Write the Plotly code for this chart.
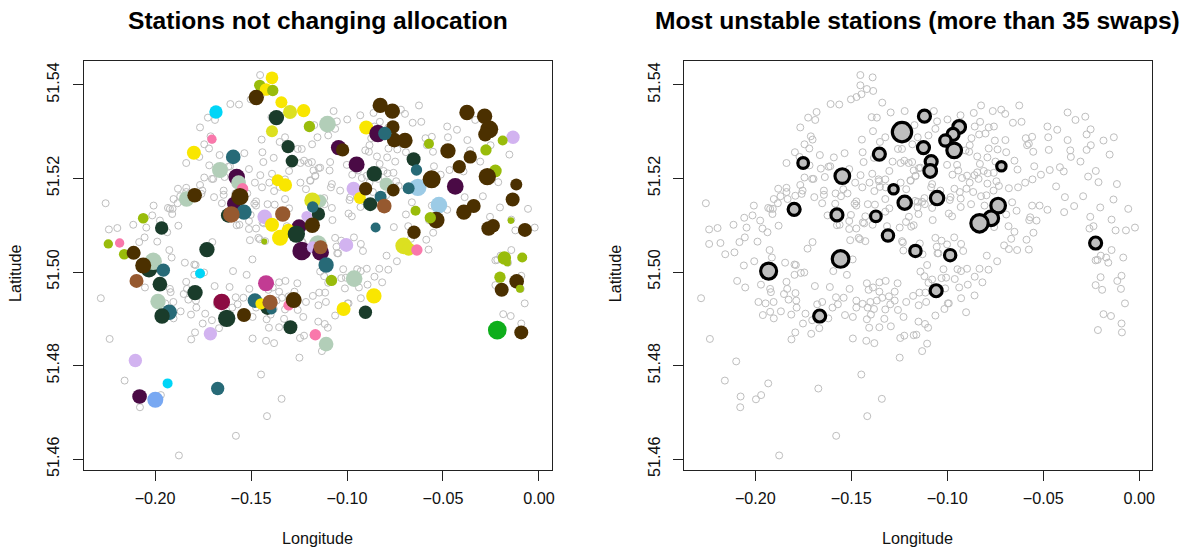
import plotly.graph_objects as go

gray_lon = [-.1453,-.1389,-.1453,-.1419,-.1386,-.1447,-.1473,-.1502,-.1563,-.1608,-.1681,-.1725,-.1688,-.1766,-.1711,-.1702,-.1744,-.1719,-.1794,-.1664,-.1838,-.1591,-.1535,-.1770,-.1718,-.1659,-.1619,-.1610,-.1638,-.1511,-.1744,-.1704,-.1697,-.1766,-.1881,-.1838,-.1838,-.1754,-.1759,-.1792,-.1832,-.1869,-.1904,-.1883,-.1909,-.1933,-.1923,-.1911,-.2008,-.2015,-.2058,-.1975,-.2046,-.2114,-.1879,-.1963,-.1937,-.2055,-.2083,-.1989,-.2182,-.2241,-.2157,-.2109,-.2241,-.2197,-.2258,-.1693,-.1643,-.1643,-.1652,-.1582,-.1542,-.1554,-.1520,-.1584,-.1624,-.1502,-.1561,-.1575,-.1511,-.1511,-.1474,-.1440,-.1427,-.1433,-.1506,-.1462,-.1455,-.1427,-.1702,-.1728,-.1926,-.1914,-.2060,-.2006,-.1845,-.1796,-.1789,-.1493,-.1474,-.1483,-.1474,-.1414,-.1377,-.1389,-.1302,-.1323,-.1314,-.1248,-.1236,-.1231,-.1229,-.1215,-.1200,-.1188,-.1175,-.1302,-.1436,-.1441,-.1445,-.1387,-.1339,-.1295,-.1222,-.1394,-.1367,-.1257,-.1236,-.1323,-.1351,-.1182,-.1382,-.1285,-.1243,-.1224,-.1201,-.1452,-.1391,-.1480,-.1443,-.1405,-.1358,-.1356,-.1323,-.1351,-.1380,-.1321,-.1243,-.1191,-.1165,-.1214,-.1323,-.1155,-.1148,
-.0824,-.0625,-.0719,-.0698,-.0763,-.0862,-.0931,-.1070,-.0999,-.1053,-.0829,-.0857,-.0784,-.0757,-.0658,-.0613,-.1062,-.0801,-.0834,-.0874,-.0752,-.0697,-.1171,-.1098,-.1154,-.0883,-.0886,-.0905,-.0784,-.0738,-.0693,-.0844,-.0791,-.0830,-.0749,-.0650,-.0634,-.0789,-.0810,-.0844,-.0858,-.0758,-.1001,-.0949,-.0943,-.0973,-.0923,-.0883,-.0897,-.0900,-.0963,-.0935,-.0865,-.0791,-.0837,-.0744,-.0731,-.0759,-.0679,-.0631,-.0594,-.0556,-.0512,-.0466,-.0413,-.0393,-.0547,-.0796,-.0824,-.0930,-.0983,-.0987,-.0930,-.0876,-.0806,-.1079,-.1084,-.1036,-.1119,-.1168,-.1154,-.1131,-.1117,-.1079,-.1150,-.0992,-.0975,-.1076,-.0662,-.0693,-.0639,-.0558,-.0519,-.0478,-.0391,-.0433,-.0387,-.0292,-.0339,-.0203,-.0255,-.0238,-.0259,-.0144,-.0123,-.0069,-.0022,-.0057,-.0134,-.0116,-.0212,-.0266,-.0226,-.0306,-.0356,-.0359,-.0274,-.0252,-.0373,-.0274,-.0253,-.0478,-.0427,-.0474,-.0471,-.0591,-.0558,-.0575,-.0584,-.0552,-.0373,-.0332,-.0281,-.0186,-.0132,-.0154,-.0681,-.0650,-.0667,-.0756,-.0704,-.0679,-.0636,-.0575,-.0587,-.0551,-.0568,-.0573,-.0535,-.0794,-.0740,-.0964,-.0928,-.1062,-.1030,-.1055,-.1001,-.0917,-.1051,-.1046,-.1143,-.1129,-.1105,-.1175,-.1140,-.1091,-.1088,-.1183,-.1166,-.1192,-.0227,-.0217,-.0200,-.0172,-.0161,-.0144,-.0083,
-.2095,-.2053,-.1971,-.1923,-.1919,-.1838,-.1834,-.1791,-.1851,-.1827,-.1787,-.1785,-.1905,-.1947,-.1984,-.1923,-.1867,-.1961,-.1904,-.1813,-.1739,-.1704,-.1752,-.1667,-.1792,-.1709,-.1812,-.1620,-.1678,-.1652,-.1690,-.1612,-.1598,-.1570,-.1580,-.1540,-.1509,-.1523,-.1594,-.1796,-.1763,-.1745,-.1533,-.1492,-.1474,-.1474,-.1441,-.1419,-.1410,-.1387,-.1354,-.1321,-.1259,-.1354,-.1274,-.1304,-.1339,-.1367,-.1401,-.1415,-.1382,-.1398,-.1419,-.1407,-.1354,-.1328,-.1294,-.1323,-.1297,-.1274,-.1257,-.1228,-.1214,-.1245,-.1224,-.1492,-.1422,-.1380,-.1248,-.1448,-.1341,-.1417,-.1579,-.1876,-.1672,-.1933,-.1970,-.1997,-.2077,-.2079,-.2159,-.2100,-.2237,-.2283,
-.1020,-.0947,-.0928,-.0897,-.0832,-.0785,-.1140,-.1119,-.1079,-.1030,-.1006,-.0961,-.1098,-.1011,-.0938,-.0893,-.0857,-.0817,-.0858,-.0928,-.1145,-.1114,-.1178,-.1110,-.1149,-.0997,-.0992,-.1015,-.1062,-.0902,-.1150,-.1116,-.1100,-.1161,-.1175,-.1105,-.1131,-.0201,-.0092,-.0114,-.0227,-.0193,-.0095,-.0074,-.0186,-.0147,-.0092,-.0215,-.0090]
gray_lat = [51.5421,51.5416,51.5399,51.5391,51.5387,51.5380,51.5374,51.5369,51.5358,51.5359,51.5342,51.5330,51.5325,51.5309,51.5290,51.5283,51.5273,51.5264,51.5256,51.5250,51.5233,51.5245,51.5254,51.5246,51.5228,51.5221,51.5225,51.5226,51.5203,51.5220,51.5202,51.5199,51.5199,51.5186,51.5178,51.5180,51.5171,51.5174,51.5167,51.5163,51.5156,51.5162,51.5156,51.5147,51.5135,51.5137,51.5135,51.5124,51.5142,51.5121,51.5116,51.5110,51.5095,51.5101,51.5099,51.5093,51.5085,51.5074,51.5064,51.5065,51.5062,51.5060,51.5038,51.5042,51.5091,51.5094,51.5147,51.5160,51.5174,51.5165,51.5147,51.5168,51.5177,51.5162,51.5168,51.5146,51.5121,51.5122,51.5101,51.5100,51.5109,51.5092,51.5093,51.5106,51.5119,51.5104,51.5068,51.5073,51.5070,51.5066,51.5064,51.5050,51.5047,51.5031,51.5014,51.5023,51.5020,51.5016,51.5015,51.5027,51.5151,51.5146,51.5142,51.5145,51.5144,51.5101,51.5136,51.5129,51.5098,51.5095,51.5066,51.5063,51.5046,51.5107,51.5118,51.5097,51.5100,51.5216,51.5235,51.5256,51.5283,51.5301,51.5362,51.5341,51.5344,51.5331,51.5330,51.5263,51.5263,51.5288,51.5278,51.5273,51.5244,51.5236,51.5233,51.5238,51.5233,51.5207,51.5210,51.5191,51.5181,51.5191,51.5198,51.5194,51.5198,51.5182,51.5173,51.5181,51.5191,51.5195,51.5206,51.5177,51.5156,51.5138,51.5222,
51.5356,51.5356,51.5347,51.5338,51.5344,51.5340,51.5335,51.5344,51.5326,51.5322,51.5321,51.5311,51.5309,51.5311,51.5319,51.5321,51.5306,51.5296,51.5294,51.5286,51.5281,51.5282,51.5314,51.5292,51.5288,51.5271,51.5257,51.5260,51.5264,51.5262,51.5256,51.5247,51.5245,51.5231,51.5236,51.5238,51.5219,51.5211,51.5216,51.5213,51.5207,51.5212,51.5229,51.5229,51.5217,51.5208,51.5201,51.5191,51.5206,51.5178,51.5178,51.5171,51.5171,51.5189,51.5199,51.5194,51.5184,51.5174,51.5179,51.5181,51.5191,51.5198,51.5208,51.5218,51.5224,51.5215,51.5226,51.5164,51.5162,51.5157,51.5160,51.5154,51.5139,51.5145,51.5142,51.5188,51.5181,51.5174,51.5158,51.5152,51.5150,51.5150,51.5145,51.5137,51.5124,51.5125,51.5119,51.5111,51.5149,51.5123,51.5131,51.5142,51.5142,51.5133,51.5128,51.5183,51.5160,51.5162,51.5141,51.5138,51.5118,51.5098,51.5093,51.5112,51.5089,51.5089,51.5095,51.5135,51.5155,51.5188,51.5192,51.5204,51.5216,51.5236,51.5246,51.5260,51.5261,51.5271,51.5282,51.5294,51.5305,51.5311,51.5304,51.5288,51.5261,51.5286,51.5289,51.5274,51.5271,51.5257,51.5341,51.5325,51.5332,51.5281,51.5288,51.5251,51.5098,51.5086,51.5071,51.5096,51.5057,51.5049,51.5047,51.5048,51.5069,51.5084,51.5117,51.5111,51.5110,51.5035,51.5023,51.5074,51.5060,51.5073,51.5067,51.5054,51.5059,51.5045,51.5040,51.5040,51.5061,51.5038,51.5015,51.5217,51.5223,51.5217,51.5235,51.5235,51.5205,51.5196,51.5025,51.5026,51.5035,51.5031,51.5020,51.5047,51.5031,
51.4981,51.4967,51.4973,51.4964,51.4957,51.4979,51.4964,51.4955,51.4953,51.4941,51.4939,51.4924,51.4936,51.4933,51.4936,51.4915,51.4916,51.4908,51.4901,51.4909,51.4911,51.4897,51.4890,51.4880,51.4871,51.4868,51.4856,51.4901,51.4931,51.4936,51.4970,51.4968,51.4924,51.4931,51.4946,51.4945,51.4964,51.4994,51.5002,51.4994,51.4998,51.4999,51.4908,51.4904,51.4939,51.4924,51.4932,51.4976,51.4962,51.4967,51.4978,51.4981,51.4976,51.4958,51.4958,51.4948,51.4945,51.4939,51.4936,51.4924,51.4921,51.4909,51.4899,51.4881,51.4882,51.4900,51.4884,51.4920,51.4931,51.4939,51.4919,51.4904,51.4936,51.4859,51.4864,51.4858,51.4853,51.4848,51.4817,51.4781,51.4729,51.4692,51.4650,51.4608,51.4751,51.4762,51.4737,51.4728,51.4734,51.4711,51.4768,51.4809,51.4857,51.4944,
51.5006,51.5006,51.5002,51.5007,51.5007,51.5005,51.5001,51.4991,51.4984,51.4987,51.4988,51.4985,51.4977,51.4965,51.4967,51.4973,51.4990,51.4978,51.4950,51.4944,51.4956,51.4956,51.4949,51.4936,51.4929,51.4933,51.4933,51.4921,51.4907,51.4914,51.4894,51.4889,51.4881,51.4866,51.4865,51.4847,51.4831,51.4989,51.4992,51.4981,51.4972,51.4962,51.4964,51.4933,51.4910,51.4906,51.4890,51.4876,51.4871]

kept_lon = [-.1391,-.1455,-.1422,-.1387,-.1473,-.1342,-.1297,-.1226,-.1683,-.1368,-.1391,-.1196,-.1307,-.1704,-.1798,-.1593,-.1287,-.1662,-.1575,-.1565,-.1361,-.1321,-.1544,-.1589,-.1558,-.1836,-.1794,-.1537,-.1619,-.1603,-.2062,-.1429,-.1335,-.1391,-.1140,-.1149,-.1181,-.1179,-.1210,-.1250,-.1181,-.1306,-.1349,-.1264,-.1236,-.1966,-.1431,-.1730,-.2244,-.2185,-.2161,-.2112,-.2032,-.2010,-.2062,-.1957,
-.0827,-.0764,-.0761,-.0754,-.0698,-.0900,-.0839,-.0803,-.1102,-.1044,-.1023,-.0950,-.0858,-.0796,-.0966,-.0933,-.0903,-.0825,-.0879,-.0806,-.0759,-.0653,-.0638,-.0631,-.0679,-.0559,-.0474,-.0573,-.0375,-.0283,-.0259,-.0280,-.0135,-.0189,-.0276,-.0358,-.0415,-.0227,-.0269,-.0436,-.0118,-.0137,-.0521,-.0340,-.0391,-.0643,-.0535,-.0566,-.0146,-.0238,-.0262,-.0073,-.0851,-.0651,-.0705,-.0679,-.0636,-.1004,-.1152,-.1178,-.1138,-.1138,-.1109,-.0180,-.0165,-.0087,
-.1766,-.2097,-.1975,-.1422,-.1792,-.1985,-.1926,-.1964,-.1653,-.1627,-.1537,-.1480,-.1414,-.1393,-.1448,-.1401,-.1304,-.1278,-.1295,-.1712,-.2103,-.1935,-.2081,-.1999,-.1674,-.1165,
-.1081,-.0963,-.0860,-.1018,-.0904,-.1109,-.0203,-.0116,-.0194,-.0099,-.0217,-.0092]
kept_lat = [51.5415,51.5399,51.5390,51.5388,51.5373,51.5363,51.5342,51.5345,51.5342,51.5330,51.5301,51.5311,51.5268,51.5284,51.5255,51.5246,51.5237,51.5218,51.5203,51.5191,51.5196,51.5186,51.5178,51.5146,51.5161,51.5156,51.5164,51.5128,51.5121,51.5123,51.5115,51.5118,51.5124,51.5101,51.5152,51.5124,51.5153,51.5139,51.5119,51.5097,51.5100,51.5088,51.5073,51.5081,51.5045,51.5094,51.5065,51.5048,51.5060,51.5062,51.5038,51.5041,51.5006,51.5023,51.5014,51.5004,
51.5356,51.5344,51.5310,51.5282,51.5281,51.5309,51.5296,51.5296,51.5316,51.5266,51.5261,51.5230,51.5210,51.5188,51.5178,51.5158,51.5178,51.5161,51.5145,51.5141,51.5175,51.5241,51.5218,51.5181,51.5179,51.5198,51.5259,51.5274,51.5341,51.5333,51.5305,51.5294,51.5288,51.5281,51.5261,51.5246,51.5225,51.5216,51.5204,51.5183,51.5187,51.5155,51.5143,51.5141,51.5128,51.5131,51.5111,51.5116,51.5110,51.5099,51.5093,51.5090,51.5095,51.5085,51.5056,51.5049,51.5047,51.5058,51.5060,51.5053,51.5042,51.5053,51.5015,51.5030,51.5020,51.5031,
51.4997,51.4981,51.4974,51.4976,51.4956,51.4937,51.4914,51.4906,51.4936,51.4901,51.4908,51.4939,51.4924,51.4920,51.4932,51.4935,51.4929,51.4940,51.4882,51.4868,51.4811,51.4762,51.4734,51.4727,51.4751,51.4866,
51.4982,51.4986,51.4949,51.4921,51.4914,51.4846,51.4989,51.4980,51.4962,51.4964,51.4876,51.4871]
kept_weight = [19,17,19,17,23,18,21,20,20,23,18,17,20,14,21,22,19,24,25,22,18,20,17,21,26,23,22,23,22,25,16,22,23,21,19,20,24,17,16,22,23,21,24,26,28,20,9,23,14,14,16,21,25,26,24,20,
23,23,20,22,23,21,26,20,25,23,20,24,23,20,21,18,20,18,21,22,19,21,17,26,18,27,23,15,23,23,27,21,20,15,17,20,20,19,26,25,18,21,25,21,23,15,25,17,10,20,22,21,15,20,25,20,17,21,26,18,25,21,23,20,11,15,
15,21,22,24,23,23,23,23,25,26,21,22,22,15,17,23,16,24,21,20,20,15,22,24,20,17,
17,25,23,21,20,22,17,22,21,12,28,21]
kept_group = list("YLYLBYGYCDGLDPYTDSUSYYPUBSBTDRLIRYSDGTIUBYYDUDLDLPLBDSBT"
                  "BBBBBYUTSUBUDSIYBTDRBDTQTBBLBBBBILLBBLBUBBQBBLBLLBBBTBGGPISIURTLLL"
                  "CRDMDSTDKDBTDTYRPBDIICUVTP"
                  "LSYYDSLBBLNB")
group_colour = {"Y": "#F9E600", "L": "#99BC0B", "B": "#4B3000", "G": "#DCE020", "C": "#00D5F7",
                "D": "#1A3C2B", "P": "#F978AB", "T": "#276A77", "S": "#B2CEB8", "U": "#4A0A45",
                "R": "#96592F", "I": "#D2B3F0", "Q": "#9CCBE6", "M": "#C23B93", "K": "#8C0B42",
                "V": "#78A8F2", "N": "#0EAE1B"}

swap_lon = [-.1236,-.1354,-.1751,-.1547,-.1280,-.1222,-.1798,-.1575,-.1372,-.1309,-.1556,-.1931,-.1119,-.0938,-.0970,-.1010,-.0964,-.1124,-.1084,-.1089,-.0718,-.1053,-.0735,-.0771,-.0832,-.1166,-.0985,-.0227,-.1665,-.1058]
swap_lat = [51.5299,51.5252,51.5233,51.5205,51.5177,51.5148,51.5134,51.5122,51.5119,51.5078,51.5028,51.5002,51.5333,51.5310,51.5294,51.5281,51.5260,51.5266,51.5236,51.5216,51.5226,51.5158,51.5142,51.5115,51.5104,51.5045,51.5036,51.5062,51.4906,51.4960]
swap_weight = [29,18,16,22,14,20,18,18,16,17,25,24,18,19,18,17,22,18,18,19,14,20,22,22,26,17,17,18,18,18]

x_ticks = [-0.20, -0.15, -0.10, -0.05, 0.00]
y_ticks = [51.46, 51.48, 51.50, 51.52, 51.54]
title_left = "Stations not changing allocation"
title_right = "Most unstable stations (more than 35 swaps)"

W, H = 1186, 551
PW, PH = 1182.5, 543
FONT = "Liberation Sans"
fig = go.Figure()
for xa, ya in (("x", "y"), ("x2", "y2")):
    fig.add_trace(go.Scatter(x=gray_lon, y=gray_lat, mode="markers", xaxis=xa, yaxis=ya, hoverinfo="skip",
                             marker=dict(symbol="circle-open", size=7, opacity=1, color="#BEBEBE", line=dict(width=1, color="#BEBEBE"))))
fig.add_trace(go.Scatter(x=kept_lon, y=kept_lat, mode="markers", xaxis="x", yaxis="y",
                         marker=dict(size=kept_weight, sizemode="diameter", sizeref=1.5,
                                     color=[group_colour[g] for g in kept_group], opacity=1, line=dict(width=0))))
fig.add_trace(go.Scatter(x=swap_lon, y=swap_lat, mode="markers", xaxis="x2", yaxis="y2",
                         marker=dict(size=swap_weight, sizemode="diameter", sizeref=1.5, color="#BEBEBE", opacity=1,
                                     line=dict(width=3.2, color="black"))))

def xaxis(domain, anchor):
    return dict(domain=domain, anchor=anchor, range=[-0.2372, 0.00657], tickvals=x_ticks, ticktext=["−0.20", "−0.15", "−0.10", "−0.05", "0.00"],
                ticks="outside", ticklen=10, tickwidth=1, tickcolor="#222", showgrid=False, zeroline=False,
                showline=True, mirror=True, linecolor="#222", linewidth=1, ticklabelstandoff=3,
                tickfont=dict(family=FONT, size=16.2, color="#111"))

def yaxis(domain, anchor):
    return dict(domain=domain, anchor=anchor, range=[51.4576, 51.5452], tickvals=y_ticks, ticktext=[f"{v:.2f}" for v in y_ticks],
                ticks="outside", ticklen=10, tickwidth=1, tickcolor="#222", showgrid=False, zeroline=False,
                showline=True, mirror=True, linecolor="#222", linewidth=1, tickangle=-90, ticklabelstandoff=7,
                tickfont=dict(family=FONT, size=16.2, color="#111"))

yd = [(PH - 468.7) / PH, (PH - 60.3) / PH]
annotations = []
for cx, ax_x, text in ((317.5, 15, title_left), (917.5, 615, title_right)):
    annotations.append(dict(text=f"<b>{text}</b>", x=cx / PW, y=1 - 20 / PH, xref="paper", yref="paper", showarrow=False,
                            font=dict(family=FONT, size=24.6, color="black"), xanchor="center", yanchor="middle"))
    annotations.append(dict(text="Longitude", x=cx / PW, y=1 - 536.5 / PH, xref="paper", yref="paper", showarrow=False,
                            font=dict(family=FONT, size=16.2, color="#111"), xanchor="center", yanchor="middle"))
    annotations.append(dict(text="Latitude", x=ax_x / PW, y=1 - 272 / PH, xref="paper", yref="paper", showarrow=False, textangle=-90,
                            font=dict(family=FONT, size=16.2, color="#111"), xanchor="center", yanchor="middle"))

fig.update_layout(width=W, height=H, margin=dict(l=0, r=0, t=0, b=0), showlegend=False,
                  paper_bgcolor="white", plot_bgcolor="white", annotations=annotations,
                  xaxis=xaxis([83.7 / PW, 551.3 / PW], "y"), yaxis=yaxis(yd, "x"),
                  xaxis2=xaxis([683.7 / PW, 1151.3 / PW], "y2"), yaxis2=yaxis(yd, "x2"))
fig.write_html("out.html", config={"displayModeBar": False}, post_script="document.body.style.margin='0';")
